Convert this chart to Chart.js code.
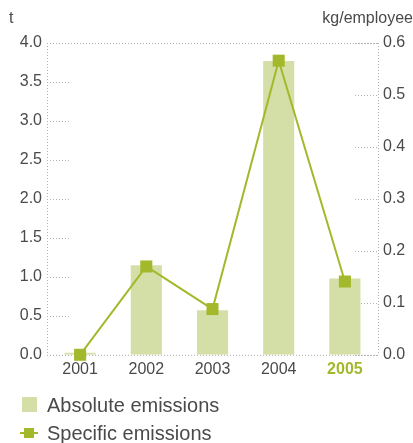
<!DOCTYPE html>
<html>
<head>
<meta charset="utf-8">
<script src="https://cdn.jsdelivr.net/npm/chart.js@4"></script>
<style>
  body { margin: 0; background: #fff; font-family: "Liberation Sans", Arial, sans-serif; color: #4a4a4a; }
  #wrap { position: relative; width: 413px; height: 443px; }
  canvas { position: absolute; left: 0; top: 0; }
  .unit { position: absolute; top: 9px; font-size: 16px; color: #4a4a4a; }
  .legend { position: absolute; left: 20px; font-size: 20px; color: #4a4a4a; }
  .legend div { height: 28px; line-height: 28px; position: relative; padding-left: 27px; }
  .sw-bar { position: absolute; left: 2px; top: 6px; width: 15px; height: 15px; background: #d4dfa7; }
  .sw-line { position: absolute; left: 0; top: 13px; width: 18px; height: 2px; background: #a4b82b; }
  .sw-pt { position: absolute; left: 4px; top: 9px; width: 10px; height: 10px; background: #a4b82b; }
</style>
</head>
<body>
<div id="wrap">
  <canvas id="chart" width="413" height="443"></canvas>
  <div class="unit" style="left:9px;">t</div>
  <div class="unit" style="right:0;">kg/employee</div>
  <div class="legend" style="top:391px;">
    <div><span class="sw-bar"></span>Absolute emissions</div>
    <div><span class="sw-line"></span><span class="sw-pt"></span>Specific emissions</div>
  </div>
</div>
<script>
const years = ['2001', '2002', '2003', '2004', '2005'];
const absoluteEmissions = [0, 1.15, 0.57, 3.77, 0.98];
const specificEmissions = [0, 0.17, 0.088, 0.566, 0.141];
const highlightYear = '2005';

const barColor = '#d4dfa7';
const lineColor = '#a4b82b';
const textColor = '#4a4a4a';
const gridColor = '#b0b0b0';
const fontFamily = '"Liberation Sans", Arial, sans-serif';

// dotted frame + short inward ticks, drawn from the scales
const framePlugin = {
    id: 'frame',
    beforeDatasetsDraw(chart) {
        const ctx = chart.ctx;
        const a = chart.chartArea;
        const yl = chart.scales.y;
        const yr = chart.scales.y1;
        ctx.save();
        ctx.strokeStyle = gridColor;
        ctx.lineWidth = 1;
        ctx.setLineDash([1, 2]);
        ctx.beginPath();
        ctx.moveTo(a.left + 0.5, a.top);
        ctx.lineTo(a.left + 0.5, a.bottom);
        ctx.moveTo(a.right + 0.5, a.top);
        ctx.lineTo(a.right + 0.5, a.bottom);
        ctx.moveTo(a.left, a.top + 0.5);
        ctx.lineTo(a.right, a.top + 0.5);
        ctx.moveTo(a.left, a.bottom + 0.5);
        ctx.lineTo(a.right, a.bottom + 0.5);
        yl.ticks.forEach(t => {
            const py = Math.round(yl.getPixelForValue(t.value)) + 0.5;
            ctx.moveTo(a.left, py);
            ctx.lineTo(a.left + 23, py);
        });
        yr.ticks.forEach(t => {
            const py = Math.round(yr.getPixelForValue(t.value)) + 0.5;
            ctx.moveTo(a.right - 23, py);
            ctx.lineTo(a.right, py);
        });
        ctx.stroke();
        ctx.restore();
    }
};

const ctx = document.getElementById('chart').getContext('2d');
new Chart(ctx, {
    data: {
        labels: years,
        datasets: [
            {
                type: 'line',
                label: 'Specific emissions',
                data: specificEmissions,
                yAxisID: 'y1',
                borderColor: lineColor,
                backgroundColor: lineColor,
                borderWidth: 2,
                pointStyle: 'rect',
                pointRadius: 8.5,
                pointHoverRadius: 8.5,
                pointBorderWidth: 0,
                clip: false,
                order: 0
            },
            {
                type: 'bar',
                label: 'Absolute emissions',
                data: absoluteEmissions,
                yAxisID: 'y',
                backgroundColor: barColor,
                barPercentage: 0.47,
                categoryPercentage: 1,
                minBarLength: 2,
                order: 1
            }
        ]
    },
    options: {
        responsive: false,
        animation: false,
        layout: { padding: { top: 43, bottom: 59, left: 0, right: 0 } },
        plugins: { legend: { display: false }, tooltip: { enabled: false } },
        scales: {
            x: {
                grid: { display: false, drawTicks: false },
                border: { display: false },
                ticks: {
                    padding: 5,
                    font: c => ({ family: fontFamily, size: 16, weight: years[c.index] === highlightYear ? 'bold' : 'normal' }),
                    color: c => years[c.index] === highlightYear ? lineColor : textColor
                }
            },
            y: {
                position: 'left',
                min: 0,
                max: 4,
                grid: { display: false, drawTicks: false },
                border: { display: false },
                afterFit: s => { s.width = 47; },
                ticks: {
                    stepSize: 0.5,
                    padding: 5,
                    color: textColor,
                    font: { family: fontFamily, size: 16 },
                    callback: v => v.toFixed(1)
                }
            },
            y1: {
                position: 'right',
                min: 0,
                max: 0.6,
                grid: { display: false, drawTicks: false },
                border: { display: false },
                afterFit: s => { s.width = 35; },
                ticks: {
                    stepSize: 0.1,
                    padding: 5,
                    color: textColor,
                    font: { family: fontFamily, size: 16 },
                    callback: v => v.toFixed(1)
                }
            }
        }
    },
    plugins: [framePlugin]
});
</script>
</body>
</html>
